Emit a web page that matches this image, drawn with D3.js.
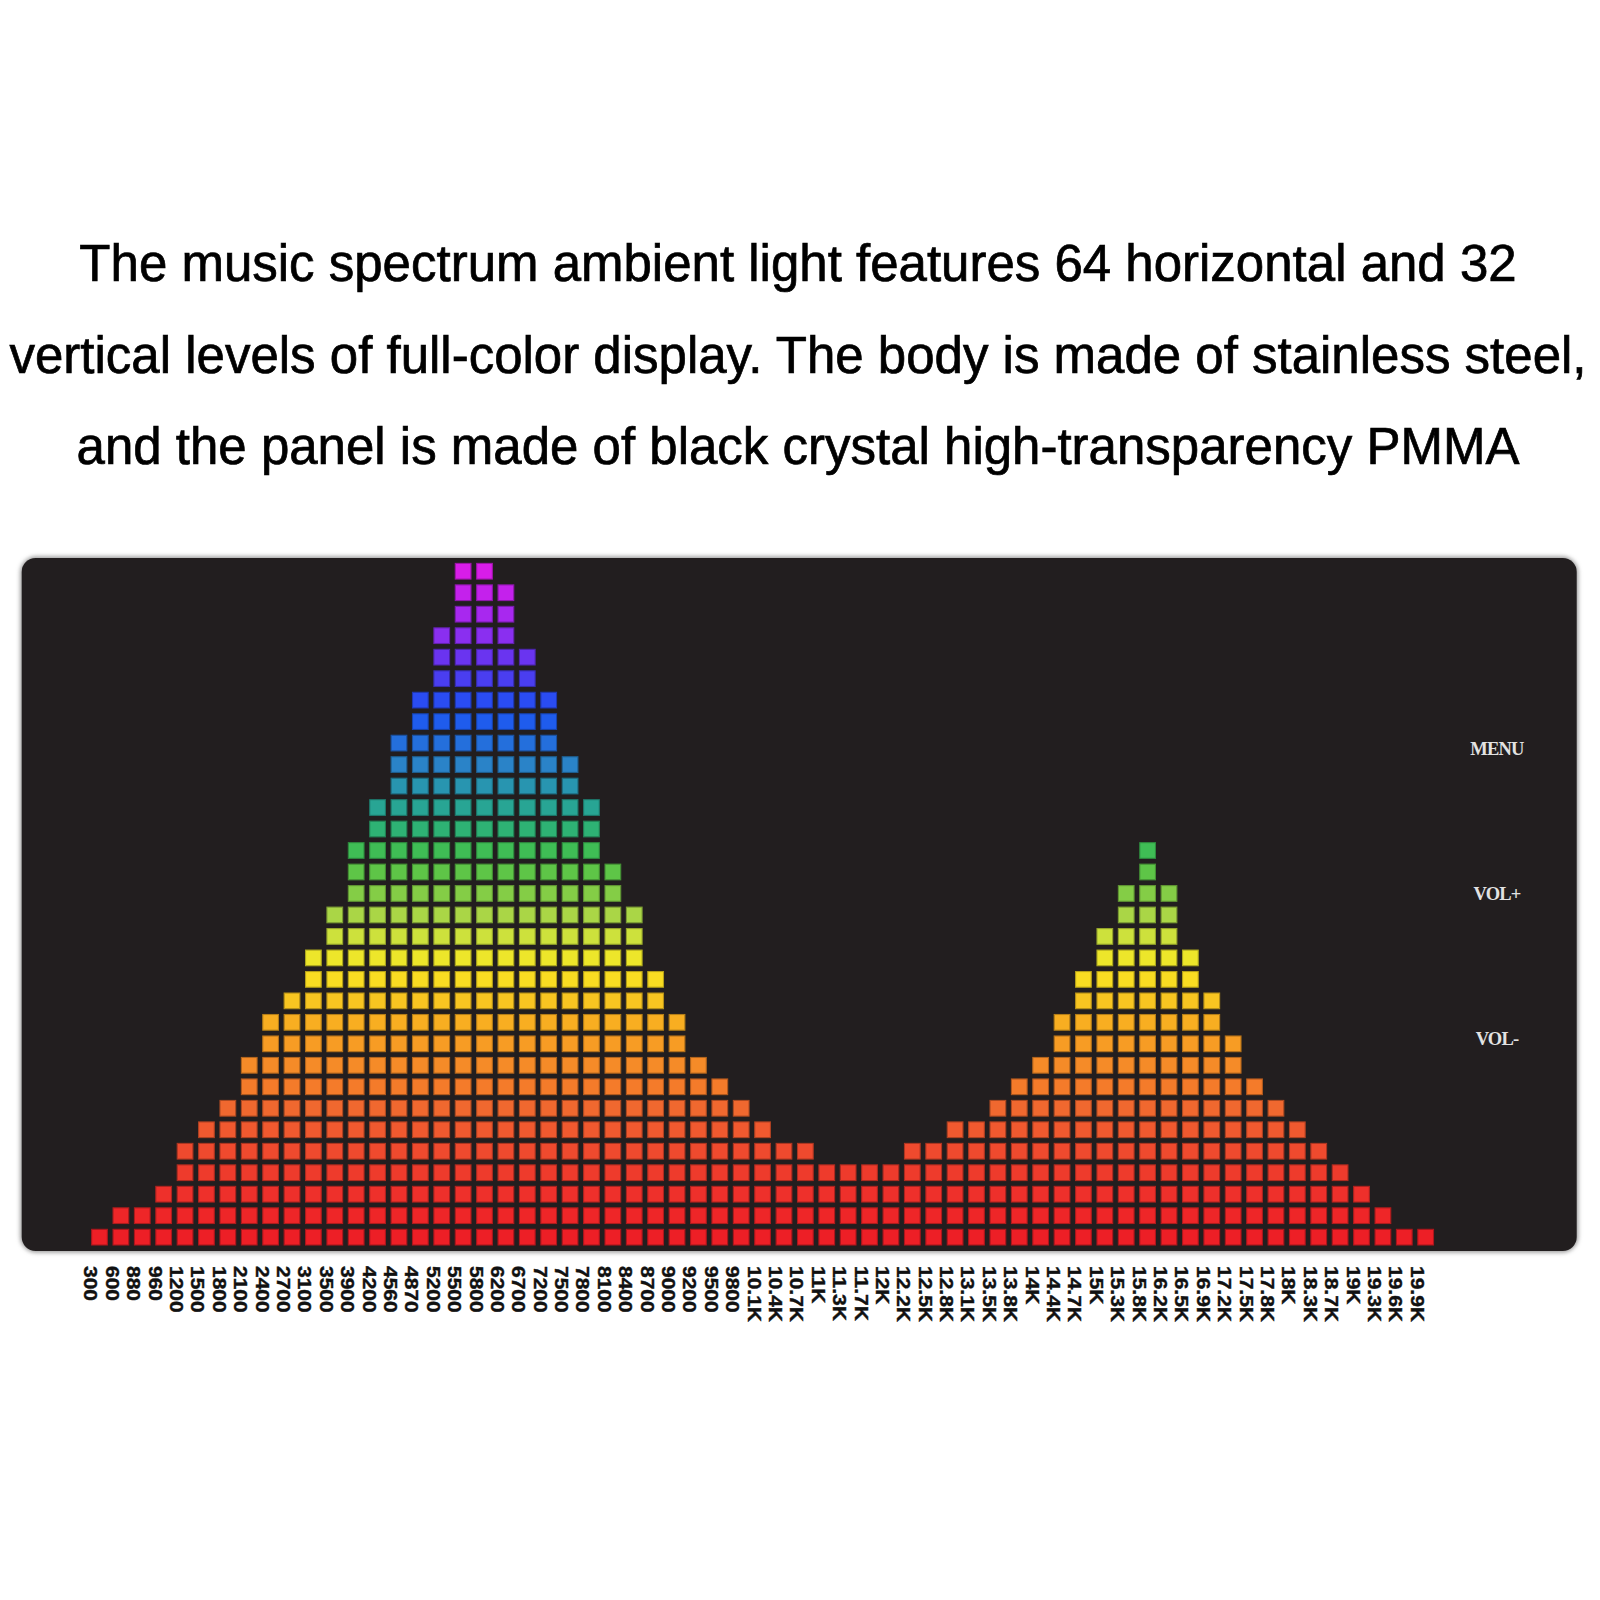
<!DOCTYPE html>
<html>
<head>
<meta charset="utf-8">
<script src="https://cdn.jsdelivr.net/npm/d3@7"></script>
<style>
  html, body { margin: 0; padding: 0; background: #ffffff; }
  svg { display: block; }
</style>
</head>
<body>
<svg id="chart" width="1600" height="1600"></svg>
<script>
// ---------------- data ----------------
const titleLines = [
  "The music spectrum ambient light features 64 horizontal and 32",
  "vertical levels of full-color display. The body is made of stainless steel,",
  "and the panel is made of black crystal high-transparency PMMA"
];

const bands = [
  "300", "600", "880", "960", "1200", "1500", "1800", "2100", "2400", "2700",
  "3100", "3500", "3900", "4200", "4560", "4870", "5200", "5500", "5800", "6200",
  "6700", "7200", "7500", "7800", "8100", "8400", "8700", "9000", "9200", "9500",
  "9800", "10.1K", "10.4K", "10.7K", "11K", "11.3K", "11.7K", "12K", "12.2K", "12.5K",
  "12.8K", "13.1K", "13.5K", "13.8K", "14K", "14.4K", "14.7K", "15K", "15.3K", "15.8K",
  "16.2K", "16.5K", "16.9K", "17.2K", "17.5K", "17.8K", "18K", "18.3K", "18.7K", "19K",
  "19.3K", "19.6K", "19.9K"
];

// lit level count (out of 32) for each frequency band
const levels = [
  1, 2, 2, 3, 5, 6, 7, 9, 11, 12,
  14, 16, 19, 21, 24, 26, 29, 32, 32, 31,
  28, 26, 23, 21, 18, 16, 13, 11, 9, 8,
  7, 6, 5, 5, 4, 4, 4, 4, 5, 5,
  6, 6, 7, 8, 9, 11, 13, 15, 17, 19,
  17, 14, 12, 10, 8, 7, 6, 5, 4, 3,
  2, 1, 1
];

const levelSteps = d3.range(1, 33);   // 32 vertical levels

const buttonLabels = ["MENU", "VOL+", "VOL-"];

// ---------------- styles ----------------
const rowColors = [
  "#ed1f26", "#ee2628", "#ee302b", "#ee3b2c", "#ef4a2e", "#f0592f", "#f0682f", "#f47b2a",
  "#f58b28", "#f79c24", "#f8ae21", "#f8c521", "#f9dc22", "#ede62a", "#cde13c", "#aad646",
  "#84cd46", "#5ec547", "#3fbd55", "#2eb274", "#28a594", "#2895b0", "#2a83c8", "#246fdc",
  "#1f5ced", "#2a4cf2", "#4a3ef0", "#6a34f0", "#8a2ff0", "#a828ef", "#c421ec", "#d81de8"
];

const svg = d3.select("#chart");

// soft halo around the panel
const defs = svg.append("defs");
const blur = defs.append("filter").attr("id", "halo")
  .attr("x", "-5%").attr("y", "-5%").attr("width", "110%").attr("height", "110%");
blur.append("feGaussianBlur").attr("stdDeviation", 2.2);

// ---------------- title ----------------
svg.append("g")
  .selectAll("text")
  .data(titleLines)
  .join("text")
  .attr("x", 798)
  .attr("y", (d, i) => 281 + i * 91.5)
  .attr("text-anchor", "middle")
  .attr("font-family", "'Liberation Sans', Arial, sans-serif")
  .attr("font-size", 51)
  .attr("fill", "#000")
  .attr("stroke", "#000")
  .attr("stroke-width", 0.7)
  .text(d => d);

// ---------------- panel ----------------
const panel = { x: 21.7, y: 558, w: 1555, h: 693 };
svg.append("rect")
  .attr("x", panel.x - 1.5).attr("y", panel.y - 1.5)
  .attr("width", panel.w + 3).attr("height", panel.h + 3)
  .attr("rx", 16)
  .attr("fill", "#9a9a9a")
  .attr("filter", "url(#halo)");
svg.append("rect")
  .attr("x", panel.x).attr("y", panel.y)
  .attr("width", panel.w).attr("height", panel.h)
  .attr("rx", 14)
  .attr("fill", "#221e1f");

// ---------------- scales ----------------
const x = d3.scaleBand()
  .domain(bands)
  .range([88.8, 88.8 + 63 * 21.39])
  .paddingInner(0.266)
  .paddingOuter(0.133);

const y = d3.scaleBand()
  .domain(levelSteps)
  .range([1247.9, 560.5])
  .paddingInner(0.27)
  .paddingOuter(0.135);

const color = d3.scaleOrdinal().domain(levelSteps).range(rowColors);

// ---------------- cells ----------------
const cells = [];
bands.forEach((b, i) => {
  for (let l = 1; l <= levels[i]; l++) cells.push({ band: b, level: l });
});

svg.append("g")
  .selectAll("rect")
  .data(cells)
  .join("rect")
  .attr("x", d => x(d.band))
  .attr("y", d => y(d.level))
  .attr("width", x.bandwidth())
  .attr("height", y.bandwidth())
  .attr("fill", d => color(d.level))
  .attr("stroke", d => d3.color(color(d.level)).darker(0.9))
  .attr("stroke-width", 1.1);

// ---------------- frequency labels ----------------
const axis = svg.append("g")
  .attr("transform", "translate(0,1266)")
  .call(d3.axisBottom(x).tickSize(0).tickPadding(0));
axis.select(".domain").remove();
axis.selectAll("text")
  .attr("x", 0).attr("y", 0).attr("dy", 0)
  .attr("text-anchor", "start")
  .attr("transform", "translate(-15,0) rotate(90) scale(1.2,1)")
  .attr("font-family", "'Liberation Sans', Arial, sans-serif")
  .attr("font-weight", "bold")
  .attr("font-size", 17.5)
  .attr("fill", "#111")
  .attr("stroke", "#111")
  .attr("stroke-width", 0.4);

// ---------------- side buttons ----------------
svg.append("g")
  .selectAll("text")
  .data(buttonLabels)
  .join("text")
  .attr("x", 1497)
  .attr("y", (d, i) => [755, 900, 1045][i])
  .attr("text-anchor", "middle")
  .attr("font-family", "'Liberation Serif', 'Times New Roman', serif")
  .attr("font-weight", "bold")
  .attr("font-size", 18.5)
  .attr("letter-spacing", -0.8)
  .attr("fill", "#e2e2e2")
  .text(d => d);
</script>
</body>
</html>
